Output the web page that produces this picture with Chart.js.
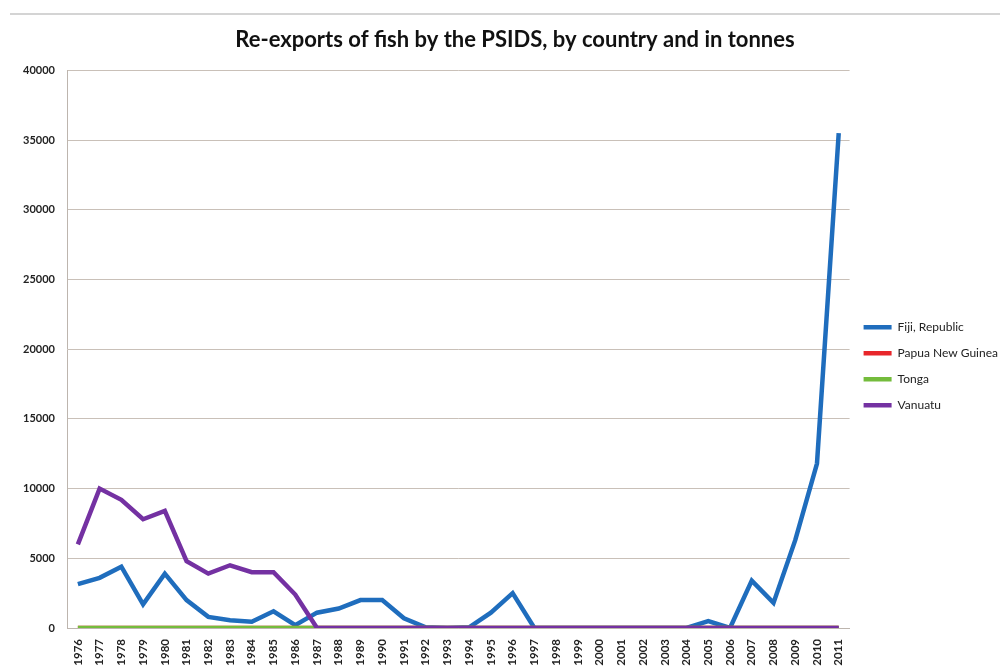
<!DOCTYPE html>
<html>
<head>
<meta charset="utf-8">
<script src="https://cdn.jsdelivr.net/npm/chart.js@4.4.1/dist/chart.umd.min.js"></script>
<style>
    html, body { margin: 0; padding: 0; background: #fff; }
    #topRule { position: absolute; left: 10px; top: 13px; width: 990px; height: 0; border-top: 2px solid #d4d4d4; }
    #wrap { position: absolute; left: 0; top: 0; width: 1008px; height: 668px; }
</style>
</head>
<body>
<div id="topRule"></div>
<div id="wrap"><canvas id="fishChart"></canvas></div>
<script>
const years = ['1976', '1977', '1978', '1979', '1980', '1981', '1982', '1983', '1984', '1985',
    '1986', '1987', '1988', '1989', '1990', '1991', '1992', '1993', '1994', '1995',
    '1996', '1997', '1998', '1999', '2000', '2001', '2002', '2003', '2004', '2005',
    '2006', '2007', '2008', '2009', '2010', '2011'];

const fiji = [3150, 3600, 4400, 1700, 3900, 2000, 800, 550, 450, 1200,
    200, 1100, 1400, 2000, 2000, 700, 50, 0, 50, 1100,
    2500, 0, 0, 0, 0, 0, 0, 0, 0, 500,
    0, 3400, 1800, 6300, 11800, 35500];

const papuaNewGuinea = [0, 0, 0, 0, 0, 0, 0, 0, 0, 0,
    0, 0, 0, 0, 0, 0, 0, 0, 0, 0,
    0, 0, 0, 0, 0, 0, 0, 0, 0, 0,
    0, 0, 0, 0, 0, 0];

const tonga = [0, 0, 0, 0, 0, 0, 0, 0, 0, 0,
    0, 0, 0, 0, 0, 0, 0, 0, 0, 0,
    0, 0, 0, 0, 0, 0, 0, 0, 0, 0,
    0, 0, 0, 0, 0, 0];

const vanuatu = [6000, 10000, 9200, 7800, 8400, 4800, 3900, 4500, 4000, 4000,
    2400, 0, 0, 0, 0, 0, 0, 0, 0, 0,
    0, 0, 0, 0, 0, 0, 0, 0, 0, 0,
    0, 0, 0, 0, 0, 0];

const yTicks = [0, 5000, 10000, 15000, 20000, 25000, 30000, 35000, 40000];

const FONT = "Lato, 'Open Sans', sans-serif";

function series(label, data, color, order) {
    return {
        label: label,
        data: data,
        borderColor: color,
        backgroundColor: color,
        borderWidth: 4.5,
        pointRadius: 0,
        tension: 0,
        fill: false,
        order: order
    };
}

const ctx = document.getElementById('fishChart').getContext('2d');
const fishChart = new Chart(ctx, {
    type: 'line',
    data: {
        labels: years,
        datasets: [
            series('Fiji, Republic', fiji, '#1f6dbd', 3),
            series('Papua New Guinea', papuaNewGuinea, '#e8262b', 2),
            series('Tonga', tonga, '#74bc3c', 1),
            series('Vanuatu', vanuatu, '#7431a2', 0)
        ]
    },
    options: {
        responsive: true,
        maintainAspectRatio: false,
        animation: false,
        layout: {
            padding: { left: 22, right: 0, top: 0, bottom: 0 }
        },
        plugins: {
            title: {
                display: true,
                text: 'Re-exports of fish by the PSIDS, by country and in tonnes',
                color: '#111',
                font: { family: FONT, size: 22, weight: 'bold' },
                padding: { top: 27, bottom: 17 }
            },
            legend: {
                position: 'right',
                align: 'start',
                title: {
                    display: true,
                    text: ' ',
                    font: { size: 1 },
                    padding: { top: 306, bottom: 0 }
                },
                labels: {
                    usePointStyle: true,
                    pointStyle: 'line',
                    pointStyleWidth: 28,
                    boxHeight: 8,
                    padding: 14,
                    color: '#222',
                    font: { family: FONT, size: 12 },
                    sort: (a, b) => a.datasetIndex - b.datasetIndex
                }
            },
            tooltip: { enabled: false }
        },
        scales: {
            x: {
                offset: true,
                grid: { display: false },
                border: { display: true, color: '#bdb5ae' },
                ticks: {
                    autoSkip: false,
                    maxRotation: 90,
                    minRotation: 90,
                    color: '#222',
                    font: { family: FONT, size: 11.5, weight: 'bold' }
                },
                afterFit: function (scale) { scale.height = 40; }
            },
            y: {
                min: 0,
                max: 40000,
                afterBuildTicks: function (scale) {
                    scale.ticks = yTicks.map(v => ({ value: v }));
                },
                grid: { color: '#c9c0b8', lineWidth: 1, drawTicks: false },
                border: { display: true, color: '#bdb5ae' },
                ticks: {
                    padding: 12,
                    color: '#222',
                    font: { family: FONT, size: 11, weight: 'bold' },
                    callback: function (value) { return String(value); }
                },
                afterFit: function (scale) { scale.width = 45; }
            }
        }
    }
});
</script>
</body>
</html>
